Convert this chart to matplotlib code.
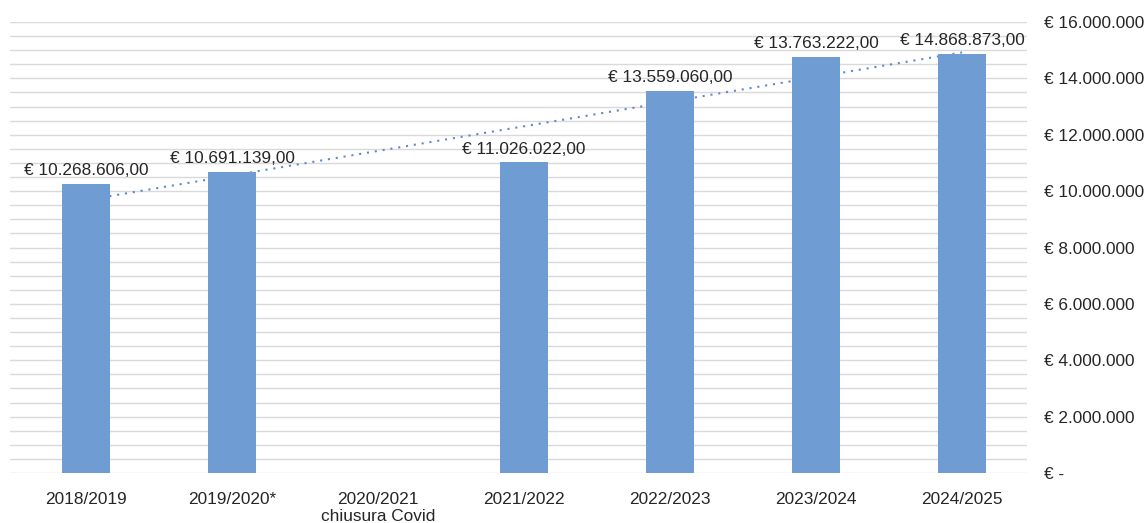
import numpy as np
import matplotlib
matplotlib.use("Agg")
import matplotlib.pyplot as plt
from matplotlib.ticker import FuncFormatter, MultipleLocator

plt.rcParams['font.family'] = ['Liberation Sans', 'DejaVu Sans']

categories = ["2018/2019", "2019/2020*", "2020/2021\nchiusura Covid",
              "2021/2022", "2022/2023", "2023/2024", "2024/2025"]
# bar heights as drawn in the picture (2020/2021 has no bar)
values = [10268606.00, 10691139.00, np.nan, 11026022.00,
          13559060.00, 14763222.00, 14868873.00]
# data labels exactly as printed in the picture
value_labels = ["€ 10.268.606,00", "€ 10.691.139,00", "", "€ 11.026.022,00",
                "€ 13.559.060,00", "€ 13.763.222,00", "€ 14.868.873,00"]
# linear trendline end values
trend_x = [0, 6]
trend_y = [9680000, 14920000]

BAR_COLOR = "#709CD4"
TREND_COLOR = "#5B8BCF"
TEXT_COLOR = "#262626"
GRID_COLOR = "#D9D9D9"
FS = 12.4

fig = plt.figure(figsize=(11.46, 5.23), dpi=100)
ax = fig.add_axes([10 / 1146, 1 - 473 / 523, (1027 - 10) / 1146, (473 - 22) / 523])

x = np.arange(len(categories))
bars = ax.bar(x, values, width=0.33, color=BAR_COLOR, zorder=3)
ax.plot(trend_x, trend_y, color=TREND_COLOR, lw=1.5,
        linestyle=(0, (1, 2.8)), zorder=2)

ax.bar_label(bars, labels=value_labels, padding=4, fontsize=FS, color=TEXT_COLOR)

ax.set_ylim(0, 16000000)
ax.set_xlim(-0.52, 6.445)
ax.yaxis.set_major_locator(MultipleLocator(2000000))
ax.yaxis.set_minor_locator(MultipleLocator(500000))


def yfmt(v, pos):
    if v == 0:
        return "€ -"
    return "€ " + f"{int(round(v)):,}".replace(",", ".")


ax.yaxis.set_major_formatter(FuncFormatter(yfmt))
ax.yaxis.tick_right()
ax.tick_params(axis='y', which='both', length=0, pad=12,
               labelsize=FS, labelcolor=TEXT_COLOR)
ax.tick_params(axis='x', length=0, pad=14, labelsize=FS, labelcolor=TEXT_COLOR)
ax.set_xticks(x)
ax.set_xticklabels(categories, linespacing=1.1)

ax.grid(axis='y', which='both', color=GRID_COLOR, lw=1.0, zorder=0)
ax.set_axisbelow(True)
for sp in ax.spines.values():
    sp.set_visible(False)

fig.savefig("out.png", dpi=100)
